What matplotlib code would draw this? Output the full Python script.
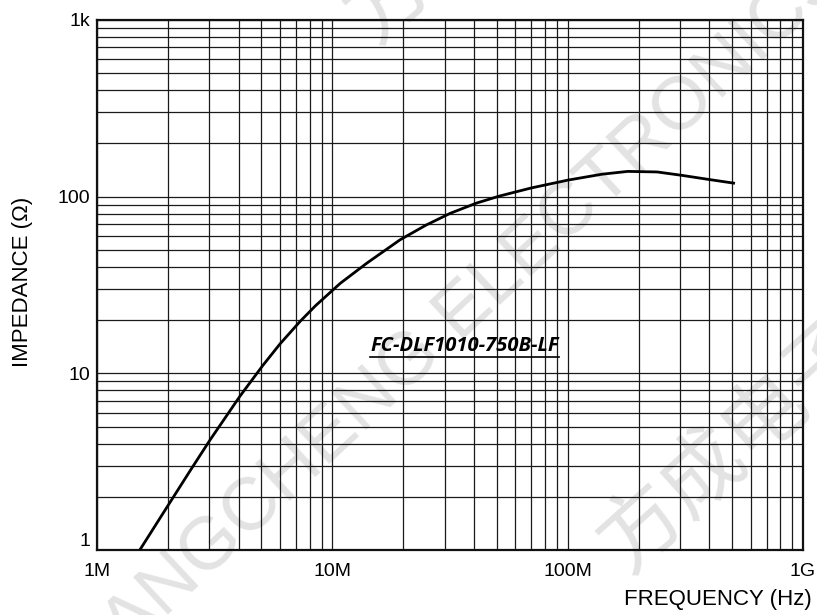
import matplotlib
matplotlib.use("Agg")
import matplotlib.pyplot as plt
import numpy as np
from matplotlib.ticker import FixedLocator, FixedFormatter, LogLocator, NullFormatter

# values (frequency in MHz, impedance in ohm)
freq_mhz = [1.52, 2.0, 2.5, 3.02, 4.06, 5.07, 6.0, 7.3, 8.5, 10.8, 14, 19.4, 25,
            31.7, 41, 51.6, 70, 100, 140, 180, 240, 306, 400, 514]
impedance = [1.0, 1.78, 2.84, 4.19, 7.46, 11.1, 14.7, 19.7, 24.2, 32.3, 42, 57, 69,
             80.5, 92, 101, 112, 124, 134, 139, 138, 132, 125, 119]

x_ticks = [1e6, 1e7, 1e8, 1e9]
x_labels = ['1M', '10M', '100M', '1G']
y_ticks = [1, 10, 100, 1000]
y_labels = ['1', '10', '100', '1k']
part_name = 'FC-DLF1010-750B-LF'

plt.rcParams['font.family'] = ['Liberation Sans', 'DejaVu Sans']

fig = plt.figure(figsize=(8.17, 6.15), dpi=100)
ax = fig.add_axes([97/817, 1 - 550/615, 706/817, 530/615])
ax.set_facecolor('none')

# watermark (light grey, under the grid)
wm = '#e3e3e3'
fig.text(460/817, 1 - 315/615, 'FANGCHENG ELECTRONICS', fontsize=54, color=wm,
         rotation=43, ha='center', va='center', rotation_mode='anchor', zorder=-5)
fig.text(735/817, 1 - 445/615, '方成电子', fontsize=60, color=wm,
         family=['Noto Sans CJK SC', 'DejaVu Sans'],
         rotation=42, ha='center', va='center', rotation_mode='anchor', zorder=-5)
fig.text(482/817, 1 + 85/615, '方成电子', fontsize=60, color=wm,
         family=['Noto Sans CJK SC', 'DejaVu Sans'],
         rotation=42, ha='center', va='center', rotation_mode='anchor', zorder=-5)

f = np.array(freq_mhz) * 1e6
ax.plot(f, impedance, color='black', lw=2.0, zorder=5, solid_capstyle='butt')

ax.set_xscale('log')
ax.set_yscale('log')
ax.set_xlim(1e6, 1e9)
ax.set_ylim(1, 1000)

ax.xaxis.set_major_locator(FixedLocator(x_ticks))
ax.xaxis.set_major_formatter(FixedFormatter(x_labels))
ax.yaxis.set_major_locator(FixedLocator(y_ticks))
ax.yaxis.set_major_formatter(FixedFormatter(y_labels))
ax.xaxis.set_minor_locator(LogLocator(base=10, subs=np.arange(2, 10)))
ax.yaxis.set_minor_locator(LogLocator(base=10, subs=np.arange(2, 10)))
ax.xaxis.set_minor_formatter(NullFormatter())
ax.yaxis.set_minor_formatter(NullFormatter())

ax.grid(True, which='both', color='#1a1a1a', lw=0.9)
ax.tick_params(which='both', length=0)
ax.tick_params(axis='x', labelsize=14, pad=9)
ax.tick_params(axis='y', labelsize=14, pad=5)
for s in ax.spines.values():
    s.set_linewidth(1.6)
    s.set_color('#111111')

fig.canvas.draw()
ax.get_yticklabels()[0].set_va('bottom')

fig.text(23/817, 1 - 282/615, 'IMPEDANCE (Ω)', rotation=90, fontsize=16,
         ha='center', va='center')
fig.text(812/817, 1 - 600/615, 'FREQUENCY (Hz)', fontsize=16,
         ha='right', va='center')

# part name, bold italic and underlined
t = ax.text(370/817, 1 - 346/615, part_name, transform=fig.transFigure,
            fontsize=14.5, fontweight='bold', fontstyle='italic',
            family=['Open Sans', 'DejaVu Sans'], ha='left', va='center', zorder=6)
fig.canvas.draw()
bb = t.get_window_extent()
uy = 1 - 357/615
fig.add_artist(plt.Line2D([bb.x0/817, bb.x1/817], [uy, uy], color='black', lw=1.2))

plt.savefig('out.png', dpi=100)
